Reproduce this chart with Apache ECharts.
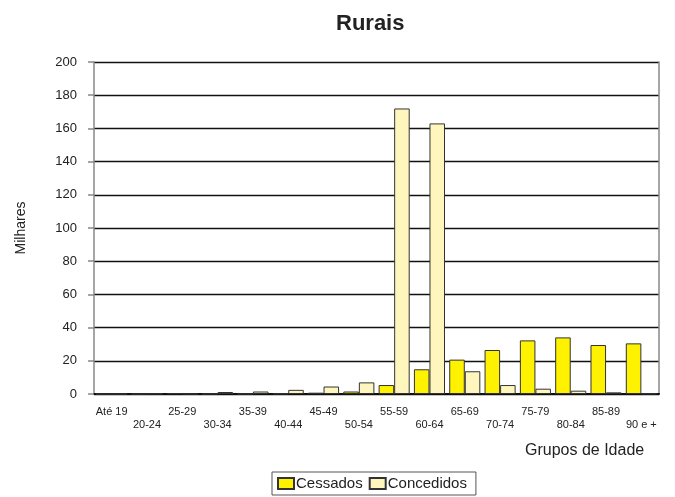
<!DOCTYPE html>
<html>
<head>
<meta charset="utf-8">
<script src="https://cdn.jsdelivr.net/npm/echarts@6/dist/echarts.min.js"></script>
<style>html,body{margin:0;padding:0;background:#fff}#c{width:675px;height:497px}</style>
</head>
<body>
<div id="c"></div>
<script>
var categories = ['Até 19','20-24','25-29','30-34','35-39','40-44','45-49','50-54','55-59','60-64','65-69','70-74','75-79','80-84','85-89','90 e +'];
var cessados   = [0, 0, 0.5, 0.1, 0.1, 0.3, 0.8, 1.5, 5.4, 14.9, 20.7, 26.5, 32.3, 34.1, 29.5, 30.5];
var concedidos = [0, 0.2, 0.1, 1.2, 1.5, 2.5, 4.5, 7, 172, 163, 13.7, 5.4, 3.2, 2, 1, 0.3];
var yTicks = {min: 0, max: 200, interval: 20};

var chart = echarts.init(document.getElementById('c'), null, {renderer: 'canvas'});
var font = '"Liberation Sans", Arial, sans-serif';
chart.setOption({
  animation: false,
  backgroundColor: '#fff',
  textStyle: {fontFamily: font, color: '#222'},
  title: {
    text: 'Rurais', left: 331, top: 8,
    textStyle: {fontFamily: font, fontSize: 22, fontWeight: 'bold', color: '#222'}
  },
  grid: {left: 94, right: 16, top: 62, bottom: 103, containLabel: false},
  legend: {
    data: ['Cessados', 'Concedidos'],
    left: 272, top: 472,
    itemWidth: 16, itemHeight: 11, itemGap: 6,
    padding: [4, 9, 4, 5],
    borderColor: '#555', borderWidth: 1,
    icon: 'rect',
    textStyle: {fontFamily: font, fontSize: 15, color: '#222', padding: [0, 0, 0, -3]}
  },
  xAxis: {
    type: 'category', data: categories,
    axisLine: {lineStyle: {color: '#111', width: 2}},
    axisTick: {alignWithLabel: true, length: 7, lineStyle: {color: '#777', width: 1.5}},
    axisLabel: {
      interval: 0, fontSize: 11, color: '#222', margin: 11, lineHeight: 13,
      formatter: function (v) { var i = categories.indexOf(v); return i % 2 ? '\n' + v : v; }
    }
  },
  yAxis: [{
    type: 'value', min: yTicks.min, max: yTicks.max, interval: yTicks.interval,
    name: 'Milhares', nameLocation: 'middle', nameRotate: 90, nameGap: 66,
    nameTextStyle: {fontFamily: font, fontSize: 14, color: '#222'},
    axisLine: {show: true, lineStyle: {color: '#888', width: 1.5}},
    axisTick: {show: true, length: 6, lineStyle: {color: '#888', width: 1.5}},
    axisLabel: {fontSize: 13, color: '#222', margin: 17},
    splitLine: {lineStyle: {color: '#111', width: 1.4}}
  }, {
    type: 'value', position: 'right', min: yTicks.min, max: yTicks.max, interval: yTicks.interval,
    axisLine: {show: true, lineStyle: {color: '#888', width: 1.5}},
    axisTick: {show: false}, axisLabel: {show: false}, splitLine: {show: false}
  }],
  graphic: [{
    type: 'text', left: 525, top: 443,
    style: {text: 'Grupos de Idade', font: '16px ' + font, fill: '#222'}
  }],
  series: [{
    name: 'Cessados', type: 'bar', data: cessados,
    barGap: '0%', barCategoryGap: '12%',
    itemStyle: {color: '#FFF200', borderColor: '#333', borderWidth: 1}
  }, {
    name: 'Concedidos', type: 'bar', data: concedidos,
    barGap: '0%', barCategoryGap: '12%',
    itemStyle: {color: '#FFF6BE', borderColor: '#333', borderWidth: 1}
  }]
});
</script>
</body>
</html>
